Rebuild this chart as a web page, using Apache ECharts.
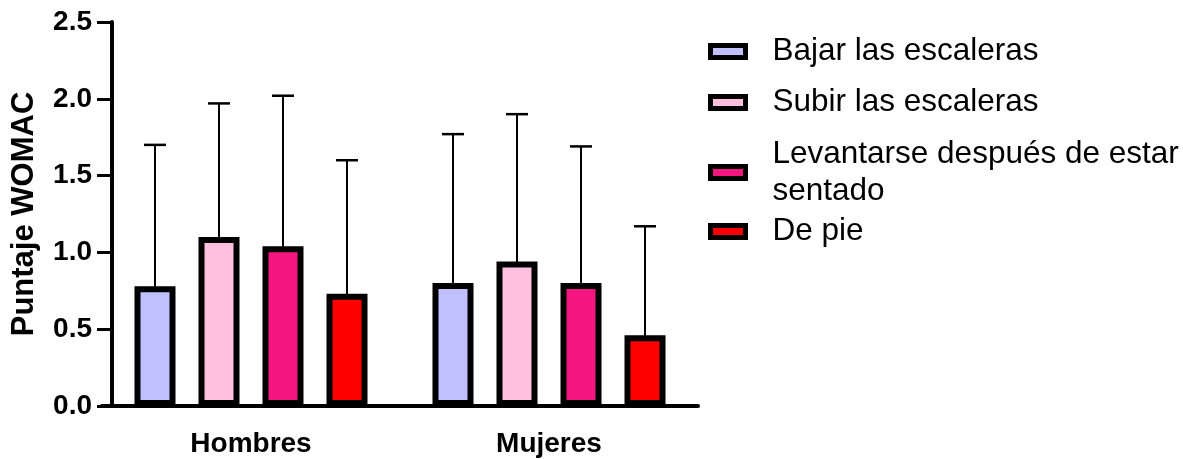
<!DOCTYPE html>
<html><head><meta charset="utf-8">
<script src="https://cdn.jsdelivr.net/npm/echarts@6/dist/echarts.min.js"></script>
<style>html,body{margin:0;padding:0;background:#fff}#c{width:1183px;height:459px}</style>
</head><body><div id="c"></div>
<script>
const categories = ['Hombres', 'Mujeres'];
const seriesNames = ['Bajar las escaleras', 'Subir las escaleras', 'Levantarse después de estar sentado', 'De pie'];
const bajarMean = [0.78, 0.80];
const subirMean = [1.10, 0.94];
const levantarseMean = [1.04, 0.80];
const dePieMean = [0.73, 0.46];
const bajarSD = [0.92, 0.97];
const subirSD = [0.87, 0.96];
const levantarseSD = [0.98, 0.89];
const dePieSD = [0.87, 0.71];
const yMin = 0, yMax = 2.5, yInterval = 0.5;
const colors = ['#C0C0FF', '#FFC0E0', '#F5167F', '#FF0000'];

const means = [bajarMean, subirMean, levantarseMean, dePieMean];
const sds = [bajarSD, subirSD, levantarseSD, dePieSD];
const FONT = '"Liberation Sans", Arial, Helvetica, sans-serif';
const BAR_W = 41, BAR_GAP = 23;

const chart = echarts.init(document.getElementById('c'), null, {renderer: 'canvas'});

const barSeries = seriesNames.map((n, i) => ({
  name: n,
  type: 'bar',
  data: means[i],
  barWidth: BAR_W,
  barGap: (BAR_GAP / BAR_W * 100).toFixed(2) + '%',
  itemStyle: {color: colors[i], borderColor: '#000', borderWidth: 6},
  z: 3,
  silent: true
}));

const errData = [];
means.forEach((m, k) => m.forEach((v, ci) => errData.push([ci, v, sds[k][ci], k])));

const errSeries = {
  type: 'custom',
  z: 2,
  silent: true,
  data: errData,
  encode: {x: 0, y: 1},
  renderItem: function (params, api) {
    const ci = api.value(0), mean = api.value(1), sd = api.value(2), k = api.value(3);
    const n = seriesNames.length;
    const step = BAR_W + BAR_GAP;
    const off = (k - (n - 1) / 2) * step;
    const base = api.coord([ci, mean]);
    const top = api.coord([ci, mean + sd]);
    const x = base[0] + off;
    return {
      type: 'group',
      children: [
        {type: 'line', shape: {x1: x, y1: base[1] + 3, x2: x, y2: top[1]}, style: {stroke: '#000', lineWidth: 2}},
        {type: 'line', shape: {x1: x - 11, y1: top[1], x2: x + 11, y2: top[1]}, style: {stroke: '#000', lineWidth: 2.5}}
      ]
    };
  }
};

const legendTops = [31, 82, 133.5, 211];
const legends = seriesNames.map((n, i) => ({
  data: [n],
  left: 708,
  top: legendTops[i],
  orient: 'vertical',
  padding: 0,
  icon: 'rect',
  itemWidth: 35,
  itemHeight: 12,
  itemStyle: {borderColor: '#000', borderWidth: 5},
  selectedMode: false,
  formatter: name => name === 'Levantarse después de estar sentado' ? 'Levantarse después de estar\nsentado' : name,
  textStyle: {fontSize: 31.5, fontFamily: FONT, color: '#000', lineHeight: 37, padding: [4, 0, 0, 22]}
}));

chart.setOption({
  animation: false,
  backgroundColor: '#fff',
  legend: legends,
  grid: {left: 102, top: 22, width: 596, height: 384, containLabel: false},
  xAxis: {
    type: 'category',
    data: categories,
    axisLine: {lineStyle: {color: '#000', width: 4}},
    axisTick: {alignWithLabel: true, length: 15, lineStyle: {color: '#000', width: 3}},
    axisLabel: {color: '#000', fontSize: 28, fontWeight: 'bold', fontFamily: FONT, margin: 24}
  },
  yAxis: {
    type: 'value',
    min: yMin, max: yMax, interval: yInterval,
    offset: -10,
    name: 'Puntaje WOMAC',
    nameLocation: 'middle',
    nameGap: 72,
    nameTextStyle: {color: '#000', fontSize: 31, fontWeight: 'bold', fontFamily: FONT},
    axisLine: {show: true, lineStyle: {color: '#000', width: 4}},
    axisTick: {show: true, length: 15, lineStyle: {color: '#000', width: 3}},
    splitLine: {show: false},
    axisLabel: {color: '#000', fontSize: 28, fontWeight: 'bold', fontFamily: FONT, margin: 20,
      formatter: v => v.toFixed(1)}
  },
  series: [...barSeries, errSeries]
});
</script></body></html>
